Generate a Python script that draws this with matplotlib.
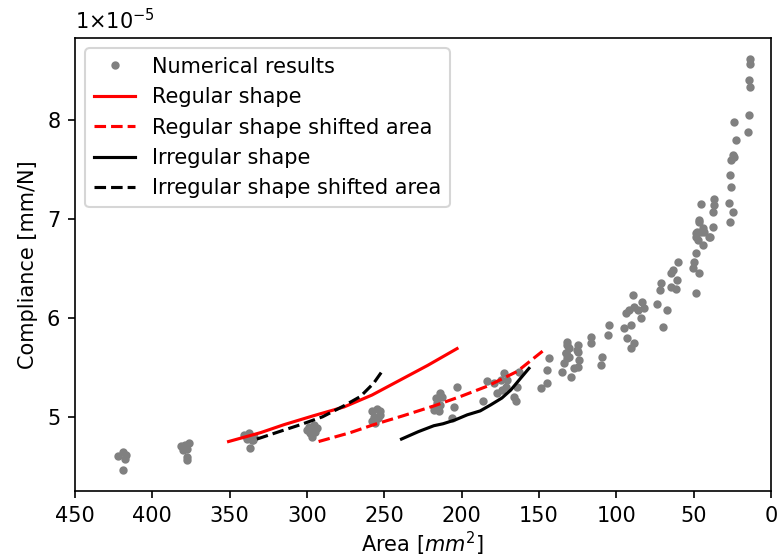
import matplotlib
matplotlib.use('Agg')
import matplotlib.pyplot as plt
import numpy as np

# Numerical results (area in mm^2, compliance in 1e-5 mm/N)
num_area = [422, 418.7, 417, 417.6, 419,
            381.6, 378.8, 376.6, 377.3, 379.9, 377.7, 377.3,
            340.6, 337.8, 335, 338.8, 335.6, 336.7, 334.1,
            299, 295.7, 293.5, 297.8, 294.6, 296.8, 300,
            257.9, 254.7, 253, 256.9, 254.3, 257.9, 255.8, 252.5,
            216.9, 214.1, 212.6, 215.8, 213.7, 218, 214.8, 205, 202.9, 206.1,
            186, 183.4, 177, 174.8, 172.7, 171.6, 173.7, 170.5, 166.2, 165.1, 164, 163, 179.2,
            149, 145, 144.6, 143.5, 134.9, 133.8, 132.7, 131.6, 129.5, 127.3, 125.2, 124.1, 130.6,
            131.6, 130.6, 132.7, 125.1, 125.1, 131.6, 125.1, 116.5, 116.5, 109, 110.1,
            104.7, 105.7, 95, 92.8, 90.6, 88.5, 90.6, 93.9, 89.5, 88.5, 86.3, 83.1, 82,
            84.2, 91.7, 73.4, 67.3, 70.1, 71.2, 71.7, 64.7, 63.6, 60.4, 60.9, 64.7, 61.5,
            49.7, 50.7, 46.4, 48.6, 47.5, 45.3, 48.6, 44.2, 40, 37.7, 46.4, 26.3, 48.6,
            13.4, 13.4, 14, 13.4, 14, 14.7, 23.8, 22.7, 24.8, 23.8, 25.9, 26.3, 25.9,
            27.4, 24.8, 36.7, 37.1, 37.7, 45.3, 46.4, 44.2, 47.9, 48.6, 43.2, 39.3]
num_comp = [4.606, 4.64, 4.616, 4.573, 4.458,
            4.70, 4.717, 4.74, 4.674, 4.667, 4.593, 4.56,
            4.818, 4.835, 4.768, 4.775, 4.768, 4.684, 4.80,
            4.90, 4.92, 4.886, 4.835, 4.85, 4.795, 4.87,
            5.054, 5.078, 5.054, 5.003, 4.987, 4.953, 4.936, 5.02,
            5.19, 5.24, 5.205, 5.14, 5.12, 5.07, 5.054, 5.104, 5.306, 4.987,
            5.155, 5.367, 5.24, 5.374, 5.44, 5.306, 5.273, 5.374, 5.205, 5.155, 5.306, 5.458, 5.34,
            5.29, 5.34, 5.475, 5.593, 5.458, 5.54, 5.643, 5.727, 5.407, 5.49, 5.677, 5.576, 5.609,
            5.761, 5.694, 5.643, 5.727, 5.66, 5.593, 5.508, 5.811, 5.75, 5.609, 5.525,
            5.929, 5.828, 5.896, 5.795, 5.929, 5.744, 5.694, 6.047, 6.232, 6.114, 6.081, 6.165, 6.098,
            5.997, 6.081, 6.141, 6.081, 5.912, 6.35, 6.283, 6.452, 6.485, 6.569, 6.384, 6.316, 6.29,
            6.569, 6.502, 6.452, 6.653, 6.788, 6.872, 6.855, 6.737, 6.821, 6.922, 6.973, 6.973, 6.256,
            8.623, 8.573, 8.404, 8.336, 8.05, 7.882, 7.983, 7.798, 7.646, 7.629, 7.596, 7.444, 7.32,
            7.165, 7.074, 7.199, 7.141, 7.074, 7.152, 6.99, 6.906, 6.872, 6.82, 6.872, 6.82]

# Regular shape
reg_area = [350.7, 330, 315, 296, 276, 258, 240, 222, 203]
reg_comp = [4.75, 4.84, 4.92, 5.01, 5.10, 5.22, 5.37, 5.52, 5.69]

# Regular shape shifted area
reg_sh_area = [292.5, 272, 257, 238, 218, 200, 183.4, 164, 147.2]
reg_sh_comp = [4.75, 4.84, 4.92, 5.01, 5.11, 5.21, 5.31, 5.46, 5.67]

# Irregular shape
irr_area = [238.9, 228, 218, 212, 209, 204, 196.4, 188, 181.3, 174, 168.3, 161.9, 156.5]
irr_comp = [4.775, 4.85, 4.91, 4.93, 4.945, 4.97, 5.02, 5.06, 5.12, 5.19, 5.27, 5.39, 5.49]

# Irregular shape shifted area
irr_sh_area = [332.4, 318, 304.3, 290, 276.3, 265.5, 256.9, 250.8]
irr_sh_comp = [4.775, 4.85, 4.92, 5.00, 5.11, 5.205, 5.34, 5.475]

scale = 1e-5

fig = plt.figure(figsize=(779 / 150, 558 / 150), dpi=150)
ax = fig.add_axes([75 / 779, 1 - 491 / 558, 696 / 779, 453 / 558])

ax.plot(num_area, np.array(num_comp) * scale, '.', color='gray', label='Numerical results')
ax.plot(reg_area, np.array(reg_comp) * scale, '-', color='red', label='Regular shape')
ax.plot(reg_sh_area, np.array(reg_sh_comp) * scale, '--', color='red', label='Regular shape shifted area')
ax.plot(irr_area, np.array(irr_comp) * scale, '-', color='black', label='Irregular shape')
ax.plot(irr_sh_area, np.array(irr_sh_comp) * scale, '--', color='black', label='Irregular shape shifted area')

ax.set_xlim(450, 0)
ax.set_xlabel('Area [$mm^2$]', labelpad=2)
ax.set_ylabel('Compliance [mm/N]')
ax.ticklabel_format(axis='y', style='sci', scilimits=(0, 0), useMathText=True)
ax.yaxis.get_offset_text().set_visible(False)
ax.text(0, 1.01, r'$1{\times}10^{-5}$', transform=ax.transAxes, ha='left', va='bottom')
ax.legend(loc='upper left')

fig.savefig('out.png', dpi=150)
